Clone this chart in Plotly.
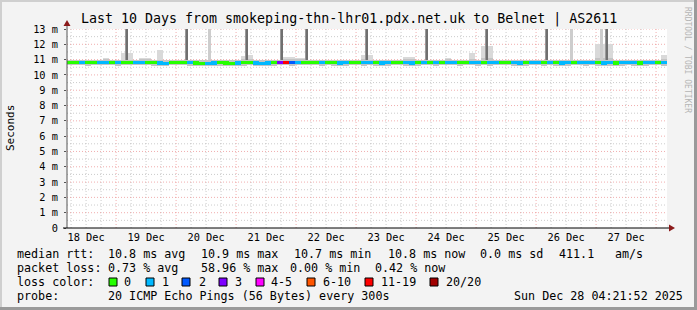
import pandas as pd
import plotly.graph_objects as go

# ---------------- data ----------------
title_text = "Last 10 Days from smokeping-thn-lhr01.pdx.net.uk to Belnet | AS2611"
t_end = pd.Timestamp("2025-12-28 04:21:52")
t_start = t_end - pd.Timedelta(days=10)
n_pts = 100

median_ms = [10.82,10.81,10.82,10.80,10.81,10.80,10.79,10.80,10.81,10.80,
             10.80,10.79,10.80,10.81,10.80,10.78,10.77,10.79,10.80,10.80,
             10.79,10.78,10.76,10.77,10.78,10.79,10.78,10.77,10.78,10.79,
             10.80,10.78,10.77,10.78,10.79,10.80,10.81,10.79,10.80,10.80,
             10.81,10.80,10.79,10.80,10.79,10.78,10.79,10.80,10.80,10.79,
             10.80,10.79,10.78,10.79,10.80,10.80,10.79,10.78,10.79,10.80,
             10.80,10.79,10.80,10.81,10.80,10.79,10.80,10.80,10.79,10.80,
             10.79,10.80,10.81,10.80,10.79,10.78,10.79,10.80,10.80,10.79,
             10.80,10.79,10.78,10.79,10.80,10.80,10.79,10.80,10.79,10.78,
             10.79,10.78,10.79,10.80,10.79,10.78,10.79,10.80,10.80,10.79]

loss_count = [0,0,1,0,0,1,1,0,1,0,
              0,1,1,0,0,1,1,0,0,0,
              1,0,0,1,1,0,0,0,1,0,
              0,1,1,1,0,3,19,2,1,0,
              0,0,1,0,0,1,1,0,0,1,
              1,0,1,1,0,0,1,1,0,1,
              0,1,0,1,1,0,0,1,1,0,
              1,1,0,0,1,1,0,1,1,0,
              1,0,1,1,0,1,1,1,0,1,
              1,0,1,1,1,0,1,1,0,1]

smoke_lo = [10.62,10.63,10.62,10.61,10.62,10.63,10.62,10.62,10.61,10.62,
            10.62,10.63,10.62,10.62,10.61,10.60,10.61,10.62,10.62,10.62,
            10.61,10.60,10.59,10.60,10.61,10.61,10.60,10.60,10.61,10.61,
            10.62,10.61,10.60,10.61,10.61,10.62,10.62,10.61,10.62,10.62,
            10.62,10.62,10.61,10.62,10.61,10.60,10.61,10.62,10.62,10.61,
            10.62,10.61,10.60,10.61,10.62,10.62,10.61,10.60,10.61,10.62,
            10.62,10.61,10.62,10.62,10.62,10.61,10.62,10.62,10.61,10.62,
            10.61,10.62,10.62,10.62,10.61,10.60,10.61,10.62,10.62,10.61,
            10.62,10.61,10.60,10.61,10.62,10.62,10.61,10.62,10.61,10.60,
            10.61,10.60,10.61,10.62,10.61,10.60,10.61,10.62,10.62,10.61]

smoke_hi = [10.98,10.97,10.98,10.96,10.97,10.98,11.02,10.97,10.98,11.00,
            11.00,10.97,11.05,11.04,10.97,11.00,10.96,10.97,10.98,10.97,
            10.97,10.96,10.95,10.96,10.96,10.97,10.96,10.96,10.97,11.05,
            11.05,10.97,10.96,10.97,10.97,10.98,11.05,11.04,11.03,11.02,
            10.98,10.97,10.96,10.97,10.96,10.96,10.97,10.97,10.98,11.05,
            10.98,10.97,10.96,10.97,10.97,10.97,11.04,11.03,10.97,10.97,
            10.98,10.97,10.97,11.03,10.97,10.96,10.97,11.04,10.96,11.08,
            11.08,10.97,10.98,10.97,10.96,10.96,10.97,10.97,10.98,10.96,
            10.97,10.96,10.96,10.97,10.97,10.97,10.96,10.97,11.10,11.10,
            11.10,10.96,10.97,10.97,10.96,10.96,10.97,10.97,10.98,11.05]

smoke_top = [10.98,10.97,10.98,10.96,10.97,10.98,11.10,10.97,10.98,11.45,
             11.45,10.97,11.10,11.10,10.97,11.62,10.96,10.97,10.98,10.97,
             10.97,10.96,10.95,10.96,10.96,10.97,10.96,10.96,10.97,11.22,
             11.30,10.97,10.96,10.97,10.97,10.98,11.15,11.15,11.10,11.10,
             10.98,10.97,10.96,10.97,10.96,10.96,10.97,10.97,10.98,11.30,
             11.30,10.97,10.96,10.97,10.97,10.97,11.15,11.15,10.97,10.97,
             10.98,10.97,10.97,11.10,10.97,10.96,10.97,11.45,10.96,11.90,
             11.90,10.97,10.98,10.97,10.96,10.96,10.97,10.97,10.98,10.96,
             10.97,10.96,10.96,10.97,10.97,10.97,10.96,10.97,12.00,12.00,
             12.00,10.96,10.97,10.97,10.96,10.96,10.97,10.97,10.98,11.30]

spike_times = ["2025-12-19 04:20", "2025-12-20 04:20", "2025-12-20 13:10",
               "2025-12-21 04:20", "2025-12-21 18:20", "2025-12-22 04:20",
               "2025-12-23 04:20", "2025-12-24 04:20", "2025-12-25 04:20",
               "2025-12-26 04:20", "2025-12-26 14:20", "2025-12-27 02:20",
               "2025-12-27 04:20"]
spike_dark = [True, True, False, True, True, True, True, True, True, True,
              False, False, True]
spike_base = 10.95
spike_top = 13.6

loss_labels = ["0", "1", "2", "3", "4-5", "6-10", "11-19", "20/20"]
loss_colors = ["#26ff00", "#00b8ff", "#0059ff", "#7e00ff", "#ff00ff",
               "#ff5500", "#ff0000", "#a10000"]
day_labels = ["18 Dec", "19 Dec", "20 Dec", "21 Dec", "22 Dec",
              "23 Dec", "24 Dec", "25 Dec", "26 Dec", "27 Dec"]
y_ticks = list(range(0, 14))
y_ticktext = ["0"] + [f"{v} m" for v in range(1, 14)]

legend_rtt = [("median rtt:", 16), ("10.8 ms avg", 107), ("10.9 ms max", 200),
              ("10.7 ms min", 293), ("10.8 ms now", 387), ("0.0 ms sd", 479),
              ("411.1", 558), ("am/s", 614)]
legend_loss = [("packet loss:", 16), ("0.73 % avg", 107), ("58.96 % max", 200),
               ("0.00 % min", 289), ("0.42 % now", 374)]
legend_swatch_x = [109, 146, 182, 219, 256, 307, 365, 430]
legend_label_x = [123, 161, 198, 234, 270, 322, 380, 445]
legend_probe = [("probe:", 16), ("20 ICMP Echo Pings (56 Bytes) every 300s", 107),
                ("Sun Dec 28 04:21:52 2025", 513)]

# ---------------- geometry helpers ----------------
W, H = 697, 310
PL, PR, PT, PB = 67, 667, 29, 228


def px(x):
    return (x - PL) / (PR - PL)


def py(y):
    return (PB - y) / (PB - PT)


def loss_idx(n):
    if n <= 3:
        return n
    if n <= 5:
        return 4
    if n <= 10:
        return 5
    if n <= 19:
        return 6
    return 7


step = (t_end - t_start) / n_pts
times = [t_start + step * (i + 0.5) for i in range(n_pts)]
bar_w = step.total_seconds() * 1000
px_ms = (t_end - t_start).total_seconds() * 1000 / (PR - PL)

MONO = "DejaVu Sans Mono"
fig = go.Figure()

# light smoke bumps
fig.add_trace(go.Bar(x=times, base=smoke_hi,
                     y=[t - h for t, h in zip(smoke_top, smoke_hi)],
                     width=bar_w, marker=dict(color="#d9d9d9", line=dict(width=0)),
                     hoverinfo="skip"))
# smoke band
fig.add_trace(go.Bar(x=times, base=smoke_lo,
                     y=[h - l for h, l in zip(smoke_hi, smoke_lo)],
                     width=bar_w, marker=dict(color="#c4c4c4", line=dict(width=0)),
                     hoverinfo="skip"))
# spikes
for dark_flag, col, wpx in [(False, "#cdcdcd", 3), (True, "#9a9a9a", 3), (True, "#707070", 1.2)]:
    st = [t for t, d in zip(spike_times, spike_dark) if d == dark_flag]
    fig.add_trace(go.Bar(x=st, base=[spike_base] * len(st),
                         y=[spike_top - spike_base] * len(st),
                         width=wpx * px_ms,
                         marker=dict(color=col, line=dict(width=0)),
                         hoverinfo="skip"))
# median line coloured by loss
fig.add_trace(go.Bar(x=times, base=[m - 0.1 for m in median_ms],
                     y=[0.2] * n_pts, width=bar_w,
                     marker=dict(color=[loss_colors[loss_idx(n)] for n in loss_count],
                                 line=dict(width=0)),
                     hoverinfo="skip"))

MAJ = "rgba(235,140,140,0.7)"
MIN = "rgba(175,175,175,0.65)"
DASH = "1px,2px"
shapes = []
# grid: vertical
g = t_start.normalize() + pd.Timedelta(hours=6)
while g < t_end:
    major = g.hour == 0
    shapes.append(dict(type="line", xref="x", yref="paper", x0=g, x1=g, y0=0, y1=1,
                       layer="below",
                       line=dict(color=MAJ if major else MIN, width=1, dash=DASH)))
    g += pd.Timedelta(hours=6)
# grid: horizontal
for k in range(1, 27):
    v = k / 2
    major = k % 2 == 0
    shapes.append(dict(type="line", xref="paper", yref="y", x0=0, x1=1, y0=v, y1=v,
                       layer="below",
                       line=dict(color=MAJ if major else MIN, width=1, dash=DASH)))
# axes lines and arrows
shapes.append(dict(type="line", xref="paper", yref="paper", x0=px(67), x1=px(67),
                   y0=py(228), y1=py(24), line=dict(color="#555555", width=1)))
shapes.append(dict(type="line", xref="paper", yref="paper", x0=px(63), x1=px(670),
                   y0=py(228), y1=py(228), line=dict(color="#000000", width=1)))
shapes.append(dict(type="path", xref="paper", yref="paper",
                   path=f"M {px(67)} {py(20)} L {px(63.5)} {py(26)} L {px(70.5)} {py(26)} Z",
                   fillcolor="#8b1a1a", line=dict(width=0)))
shapes.append(dict(type="path", xref="paper", yref="paper",
                   path=f"M {px(675)} {py(228)} L {px(669)} {py(224.5)} L {px(669)} {py(231.5)} Z",
                   fillcolor="#8b1a1a", line=dict(width=0)))
# outer border
shapes.append(dict(type="line", xref="paper", yref="paper", x0=px(0), x1=px(697),
                   y0=py(1), y1=py(1), line=dict(color="#cfcfcf", width=2)))
shapes.append(dict(type="line", xref="paper", yref="paper", x0=px(1), x1=px(1),
                   y0=py(0), y1=py(310), line=dict(color="#cfcfcf", width=2)))
shapes.append(dict(type="line", xref="paper", yref="paper", x0=px(695.5), x1=px(695.5),
                   y0=py(0), y1=py(310), line=dict(color="#9a9a9a", width=3)))
shapes.append(dict(type="line", xref="paper", yref="paper", x0=px(0), x1=px(697),
                   y0=py(308.5), y1=py(308.5), line=dict(color="#9a9a9a", width=3)))
# loss colour swatches
for xs, col in zip(legend_swatch_x, loss_colors):
    shapes.append(dict(type="rect", xref="paper", yref="paper",
                       x0=px(xs), x1=px(xs + 8), y0=py(278), y1=py(286),
                       fillcolor=col, line=dict(color="#000000", width=1)))

annotations = []


def txt(s, x, y, size=11.7, anchor="left", color="#000000", angle=0):
    annotations.append(dict(text=s, xref="paper", yref="paper", x=px(x), y=py(y),
                            xanchor=anchor, yanchor="middle", showarrow=False,
                            textangle=angle, borderpad=0,
                            font=dict(family=MONO, size=size, color=color)))


txt(title_text, 348.5, 19, size=13.3, anchor="center")
txt("Seconds", 10, 128, size=11, anchor="center", angle=-90)
txt("RRDTOOL / TOBI OETIKER", 688, 60, size=8, anchor="center", color="#b5b5b5", angle=90)
for s, x in legend_rtt:
    txt(s, x, 254)
for s, x in legend_loss:
    txt(s, x, 268)
txt("loss color:", 16, 282)
for s, x in zip(loss_labels, legend_label_x):
    txt(s, x, 282)
for s, x in legend_probe:
    txt(s, x, 296)

noon_ticks = [t_start.normalize() + pd.Timedelta(days=d, hours=12) for d in range(10)]

fig.update_layout(
    width=W, height=H,
    margin=dict(l=PL, r=W - PR, t=PT, b=H - PB, pad=0),
    paper_bgcolor="#f3f3f3", plot_bgcolor="#ffffff",
    showlegend=False, barmode="overlay", bargap=0,
    shapes=shapes, annotations=annotations,
    xaxis=dict(type="date", range=[t_start, t_end], showgrid=False, zeroline=False,
               showline=False, tickvals=noon_ticks, ticktext=day_labels, ticks="",
               ticklabelstandoff=2,
               tickfont=dict(family=MONO, size=10.3, color="#000000"), fixedrange=True),
    yaxis=dict(range=[0, 13], showgrid=False, zeroline=False, showline=False,
               tickvals=y_ticks, ticktext=y_ticktext, ticks="outside", ticklen=2,
               tickcolor="#555555", ticklabelstandoff=4,
               tickfont=dict(family=MONO, size=10.3, color="#000000"), fixedrange=True),
)

fig.write_html("out.html")
